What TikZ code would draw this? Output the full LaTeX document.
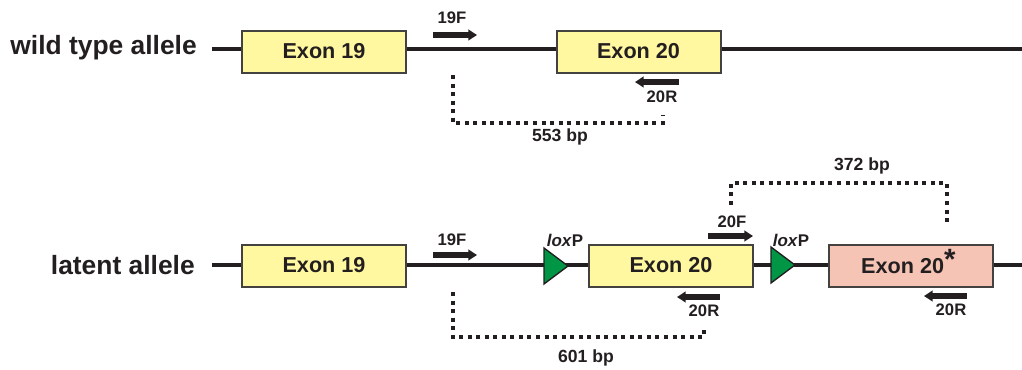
\documentclass[tikz,border=0pt]{standalone}
\usepackage{fontspec}
\setmainfont{Liberation Sans}
\usetikzlibrary{arrows.meta}
\definecolor{exonyellow}{RGB}{255,248,160}
\definecolor{exonsalmon}{RGB}{246,196,180}
\definecolor{loxgreen}{RGB}{0,150,70}
\definecolor{ink}{RGB}{35,31,32}
\tikzset{
  allele/.style={font=\fontsize{19.8}{22}\selectfont\bfseries, text=ink, anchor=east, inner sep=0pt},
  dna/.style={draw=ink, line width=3pt},
  exon/.style={draw=ink!85, line width=1.5pt, fill=exonyellow, minimum width=123pt, minimum height=31.5pt, inner sep=0pt, font=\fontsize{16.2}{18}\selectfont\bfseries, text=ink},
  exonstar/.style={exon, fill=exonsalmon},
  loxtri/.style={draw=ink, line width=1pt, fill=loxgreen},
  loxlabel/.style={font=\fontsize{12.7}{14}\selectfont\bfseries, text=ink, inner sep=0pt},
  primer/.style={draw=ink, line width=4.5pt, -{Triangle[length=6.5pt,width=8pt]}},
  primerlabel/.style={font=\fontsize{12.5}{14}\selectfont\bfseries, text=ink, inner sep=0pt},
  product/.style={draw=ink, line width=3pt, dash pattern=on 3pt off 3.4pt},
  bplabel/.style={font=\fontsize{13.2}{15}\selectfont\bfseries, text=ink, inner sep=0pt}
}
\begin{document}
\begin{tikzpicture}[x=0.75pt,y=-0.75pt]
\useasboundingbox (0,0) rectangle (1022,369);
% ---------------- wild type ----------------
\coordinate (wL) at (212,49);
\coordinate (wR) at (1022,49);
\draw[dna] (wL) -- (wR);
\node[allele] (wlab) at (197,48) {wild type allele};
\node[exon] (wE19) at (324,51.5) {Exon 19};
\node[exon] (wE20) at (638.5,51.5) {Exon 20};
\coordinate (w19Fa) at (433,35);
\coordinate (w19Fb) at (477,35);
\draw[primer] (w19Fa) -- (w19Fb);
\node[primerlabel] (w19Flab) at (452,18) {19F};
\coordinate (w20Ra) at (679,82);
\coordinate (w20Rb) at (635,82);
\draw[primer] (w20Ra) -- (w20Rb);
\node[primerlabel] (w20Rlab) at (662,97) {20R};
\coordinate (w553a) at (453,75);
\coordinate (w553b) at (663,115);
\draw[product] (w553a) -- (453,123) -- (663,123) -- (w553b);
\node[bplabel] (w553lab) at (560,137) {553 bp};
% ---------------- latent ----------------
\coordinate (lL) at (212,265);
\coordinate (lR) at (1022,265);
\draw[dna] (lL) -- (lR);
\node[allele] (llab) at (195,265) {latent allele};
\node[exon] (lE19) at (324,265.5) {Exon 19};
\node[exon] (lE20) at (671,265.5) {Exon 20};
\node[exonstar] (lE20s) at (911,266) {\hspace*{-4pt}Exon 20\smash{\raisebox{3pt}{\fontsize{22}{22}\selectfont *}}};
\draw[loxtri] (544,248) -- (568,266) -- (544,284) -- cycle;
\draw[loxtri] (771,247) -- (795,265) -- (771,283) -- cycle;
\node[loxlabel] (lox1) at (565,240) {\textit{lox}P};
\node[loxlabel] (lox2) at (791,240) {\textit{lox}P};
\coordinate (l19Fa) at (433,255);
\coordinate (l19Fb) at (477,255);
\draw[primer] (l19Fa) -- (l19Fb);
\node[primerlabel] (l19Flab) at (452,240) {19F};
\coordinate (l20Fa) at (708,236);
\coordinate (l20Fb) at (753,236);
\draw[primer] (l20Fa) -- (l20Fb);
\node[primerlabel] (l20Flab) at (732,222) {20F};
\coordinate (l20Ra) at (720,297);
\coordinate (l20Rb) at (677,297);
\draw[primer] (l20Ra) -- (l20Rb);
\node[primerlabel] (l20Rlab) at (704,311) {20R};
\coordinate (l20Sa) at (967,296);
\coordinate (l20Sb) at (924,296);
\draw[primer] (l20Sa) -- (l20Sb);
\node[primerlabel] (l20Slab) at (951,310) {20R};
\coordinate (l601a) at (453,292);
\coordinate (l601b) at (704,328);
\draw[product] (l601a) -- (453,337) -- (704,337) -- (l601b);
\node[bplabel] (l601lab) at (586,358) {601 bp};
\coordinate (l372a) at (731,205);
\coordinate (l372b) at (947,225);
\draw[product] (l372a) -- (731,183) -- (947,183) -- (l372b);
\node[bplabel] (l372lab) at (862,166) {372 bp};
\end{tikzpicture}
\end{document}
